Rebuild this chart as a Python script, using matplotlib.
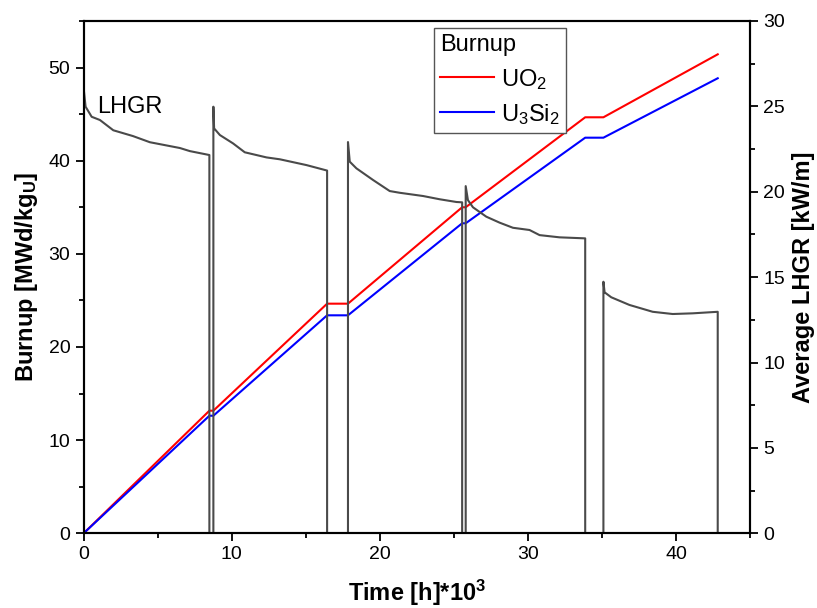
#!/usr/bin/env python3
"""
Burnup (UO2 vs U3Si2) and average LHGR over irradiation time.
"""

import matplotlib
matplotlib.use("Agg")
import matplotlib.pyplot as plt

plt.rcParams["font.family"] = ["Liberation Sans", "DejaVu Sans"]
plt.rcParams["mathtext.fontset"] = "custom"
plt.rcParams["mathtext.rm"] = "Liberation Sans"
plt.rcParams["mathtext.bf"] = "Liberation Sans:bold"
plt.rcParams["mathtext.default"] = "regular"

# burnup breakpoints [h*10^3, MWd/kgU]
t_burnup = [0, 8.49, 8.76, 16.44, 17.85, 25.56, 25.8, 33.87, 35.1, 42.82]
bu_uo2 = [0, 13.16, 13.16, 24.65, 24.65, 35.0, 35.0, 44.66, 44.66, 51.42]
bu_u3si2 = [0, 12.62, 12.62, 23.4, 23.4, 33.28, 33.28, 42.47, 42.47, 48.85]

# average LHGR history [kW/m]
t_lhgr = [0, 0, 0.13, 0.54, 1.1, 2.0, 3.33, 4.47, 6.5, 7.17, 8.49, 8.49,
          8.76, 8.76, 8.81, 9.2, 10.09, 10.88, 12.35, 13.25, 15.05, 16.44, 16.44,
          17.85, 17.85, 17.97, 18.42, 19.54, 20.67, 21.34, 22.92, 24.04, 25.17, 25.56, 25.56,
          25.8, 25.8, 25.95, 26.29, 27.19, 28.09, 28.99, 30.11, 30.79, 32.14, 33.87, 33.87,
          35.1, 35.1, 35.18, 35.63, 36.86, 38.43, 39.78, 41.13, 42.82, 42.82]
lhgr = [0, 26.05, 24.98, 24.39, 24.2, 23.6, 23.26, 22.9, 22.56, 22.38, 22.15, 0,
        0, 24.98, 23.71, 23.32, 22.83, 22.31, 22.01, 21.9, 21.56, 21.24, 0,
        0, 22.91, 21.76, 21.37, 20.69, 20.04, 19.94, 19.75, 19.56, 19.4, 19.38, 0,
        0, 20.33, 19.51, 19.09, 18.54, 18.19, 17.89, 17.76, 17.46, 17.33, 17.27, 0,
        0, 14.73, 14.11, 13.82, 13.37, 12.97, 12.84, 12.88, 12.97, 0]

fig = plt.figure(figsize=(8.17, 6.08), dpi=100)
ax1 = fig.add_axes([0.1024, 0.1229, 0.8156, 0.8426])
ax2 = ax1.twinx()

l_uo2, = ax1.plot(t_burnup, bu_uo2, color="#ff0000", lw=1.5, label="UO$_2$")
l_si, = ax1.plot(t_burnup, bu_u3si2, color="#0000ff", lw=1.5, label="U$_3$Si$_2$")
ax2.plot(t_lhgr, lhgr, color="#4a4a4a", lw=1.5)

ax1.set_xlim(0, 45)
ax1.set_ylim(0, 55)
ax2.set_ylim(0, 30)
ax1.set_xticks(range(0, 41, 10))
ax1.set_xticks(range(5, 46, 10), minor=True)
ax1.set_yticks(range(0, 51, 10))
ax1.set_yticks(range(5, 56, 10), minor=True)
ax2.set_yticks(range(0, 31, 5))
ax2.set_yticks([2.5 + 5 * i for i in range(6)], minor=True)

for ax in (ax1, ax2):
    for s in ax.spines.values():
        s.set_linewidth(1.5)
    ax.tick_params(which="major", length=6, width=1.3, labelsize=14, direction="out")
    ax.tick_params(which="minor", length=3.5, width=1.3, direction="out")
ax1.tick_params(which="both", top=False, right=False)

ax1.set_xlabel("Time [h]*10$^\\mathbf{3}$", fontsize=17, fontweight="bold", labelpad=10)
ax1.set_ylabel("Burnup [MWd/kg$_\\mathbf{U}$]", fontsize=17, fontweight="bold", labelpad=6)
ax2.set_ylabel("Average LHGR [kW/m]", fontsize=17, fontweight="bold", labelpad=5)

ax2.text(0.9, 24.6, "LHGR", fontsize=17, va="baseline", ha="left")

leg = ax2.legend(handles=[l_uo2, l_si], title="Burnup", loc="upper left",
                 bbox_to_anchor=(0.526, 0.986), fontsize=17, title_fontsize=17,
                 fancybox=False, framealpha=1, edgecolor="#555555",
                 handlelength=2.3, handletextpad=0.3, borderpad=0.25,
                 labelspacing=0.45, borderaxespad=0, handleheight=0.9)
leg._legend_box.align = "left"
leg.get_frame().set_linewidth(1.0)

plt.savefig("out.png", dpi=100)
plt.close()
